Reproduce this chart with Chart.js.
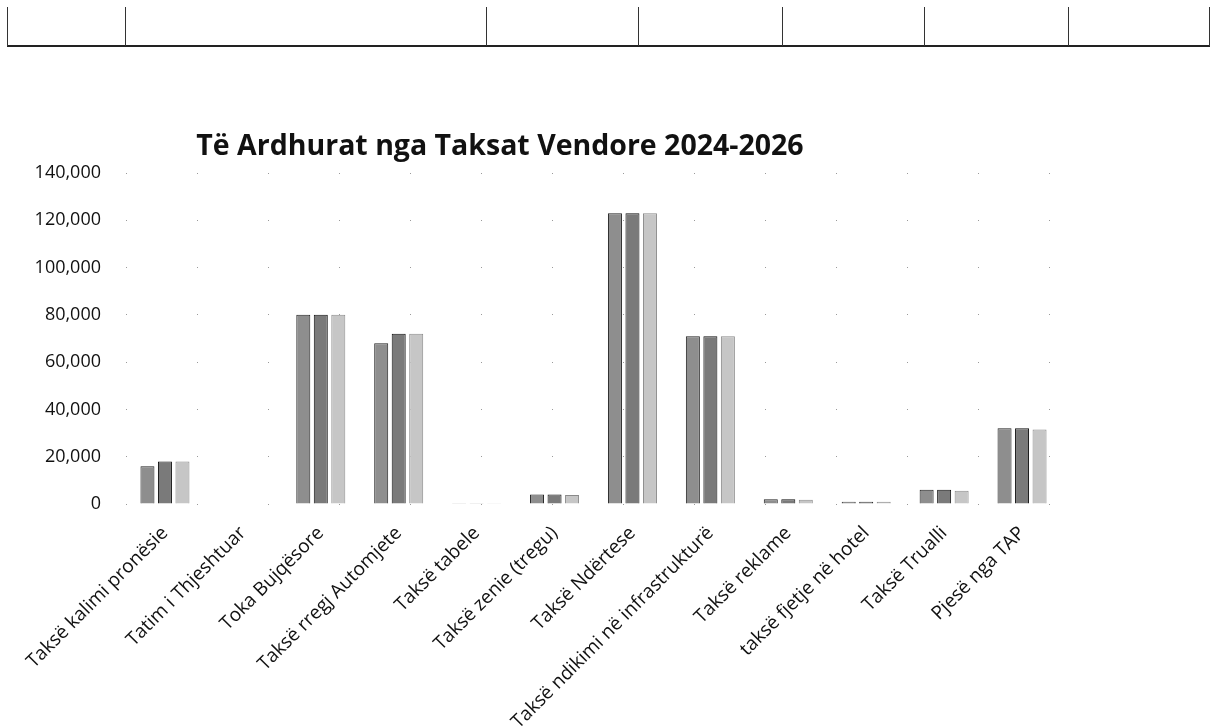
<!DOCTYPE html>
<html>
<head>
<meta charset="utf-8">
<script src="https://cdn.jsdelivr.net/npm/chart.js@4/dist/chart.umd.min.js"></script>
<style>
  html, body { margin: 0; padding: 0; background: #fff; }
  #wrap { position: relative; width: 1213px; height: 727px; overflow: hidden; }
  #c { position: absolute; left: 0; top: 0; }
  .hl { position: absolute; left: 7px; top: 45px; width: 1203px; height: 2px; background: #222; }
  .vl { position: absolute; top: 7px; width: 1px; height: 39px; background: #333; }
  #title { position: absolute; left: 0; width: 1000px; top: 125px; text-align: center;
           font-family: "Open Sans", sans-serif; font-weight: bold; font-size: 28.5px; color: #111; }
</style>
</head>
<body>
<div id="wrap">
  <canvas id="c" width="1213" height="727"></canvas>
  <div class="hl"></div>
  <div class="vl" style="left:7px"></div>
  <div class="vl" style="left:125px"></div>
  <div class="vl" style="left:486px"></div>
  <div class="vl" style="left:638px"></div>
  <div class="vl" style="left:782px"></div>
  <div class="vl" style="left:924px"></div>
  <div class="vl" style="left:1068px"></div>
  <div class="vl" style="left:1209px"></div>
  <div id="title">Të Ardhurat nga Taksat Vendore 2024-2026</div>
</div>
<script>
const categories = [
  "Taksë kalimi pronësie",
  "Tatim i Thjeshtuar",
  "Toka Bujqësore",
  "Taksë rregj Automjete",
  "Taksë tabele",
  "Taksë zenie (tregu)",
  "Taksë Ndërtese",
  "Taksë ndikimi në infrastrukturë",
  "Taksë reklame",
  "taksë fjetje në hotel",
  "Taksë Trualli",
  "Pjesë nga TAP"
];
const seriesNames = ["2024", "2025", "2026"];
const values2024 = [16000, 0, 80000, 68000, 300, 4000, 123000, 71000, 2000, 1000, 6000, 32000];
const values2025 = [18000, 0, 80000, 72000, 300, 4000, 123000, 71000, 2000, 1000, 6000, 32000];
const values2026 = [18000, 0, 80000, 72000, 300, 3800, 123000, 71000, 1800, 900, 5600, 31500];
const yTicks = [0, 20000, 40000, 60000, 80000, 100000, 120000, 140000];

const fills = ["#8e8e8e", "#7a7a7a", "#c6c6c6"];
const borders = ["#222", "#111", "#8a8a8a"];
const allValues = [values2024, values2025, values2026];

new Chart(document.getElementById("c"), {
  type: "bar",
  data: {
    labels: categories,
    datasets: seriesNames.map((n, i) => ({
      label: n,
      data: allValues[i],
      backgroundColor: fills[i],
      borderColor: borders[i],
      borderWidth: 1,
      categoryPercentage: 0.674,
      barPercentage: 0.8
    }))
  },
  options: {
    responsive: false,
    animation: false,
    layout: { padding: { top: 173, right: 152, left: 0, bottom: 0 } },
    plugins: { legend: { display: false }, title: { display: false }, tooltip: { enabled: false } },
    scales: {
      x: {
        offset: true,
        grid: { display: false, drawTicks: false },
        border: { display: false },
        ticks: {
          autoSkip: false, minRotation: 45, maxRotation: 45, padding: 18,
          color: "#111", font: { family: "Open Sans", size: 19 }
        },
        afterFit: s => { s.height = 223; }
      },
      y: {
        min: 0, max: 140000,
        afterBuildTicks: s => { s.ticks = yTicks.map(v => ({ value: v })); },
        grid: { color: "#9a9a9a", lineWidth: 1, drawTicks: false },
        border: { display: false, dash: [1, 70] },
        ticks: {
          padding: 25, color: "#111", font: { family: "Open Sans", size: 18 },
          callback: v => v.toLocaleString("en-US")
        },
        afterFit: s => { s.width = 126; }
      }
    }
  }
});
</script>
</body>
</html>
